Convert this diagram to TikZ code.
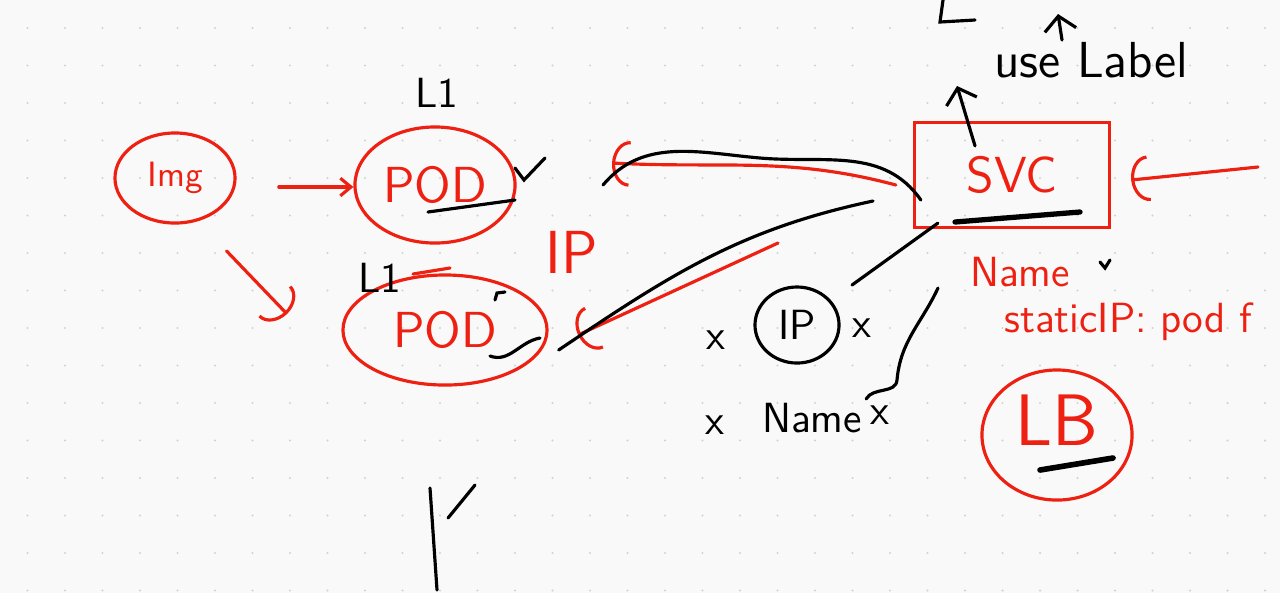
\documentclass[tikz,border=0pt]{standalone}
\usetikzlibrary{shapes.geometric, arrows, arrows.meta, calc}
\definecolor{inkred}{RGB}{238,32,18}
\definecolor{paper}{RGB}{249,249,249}
\tikzstyle{redring} = [ellipse, draw=inkred, line width=0.9pt, text=inkred, font=\sffamily\Large, inner sep=0pt]
\tikzstyle{inkring} = [ellipse, draw=black, line width=0.9pt, text=black, font=\sffamily\large, inner sep=0pt]
\tikzstyle{svcbox} = [rectangle, draw=inkred, line width=0.9pt, text=inkred, font=\sffamily\Large]
\tikzstyle{redtext} = [text=inkred, font=\sffamily\large, inner sep=1pt]
\tikzstyle{inktext} = [text=black, font=\sffamily\large, inner sep=1pt]
\tikzstyle{redarrow} = [draw=inkred, line width=0.9pt, line cap=round, -{Straight Barb[length=3pt, width=5pt]}]
\tikzstyle{redcurl} = [draw=inkred, line width=0.9pt, line cap=round, -{Arc Barb[length=5pt, width=13pt]}]
\tikzstyle{inkarrow} = [draw=black, line width=0.9pt, line cap=round, -{Straight Barb[length=4pt, width=9pt]}]
\tikzstyle{inkline} = [draw=black, line width=0.9pt, line cap=round]
\tikzstyle{redline} = [draw=inkred, line width=0.9pt, line cap=round]

\begin{document}
\begin{tikzpicture}[x=0.01cm, y=-0.01cm]
    \useasboundingbox (0,0) rectangle (1280,593);
    \fill[paper] (0,0) rectangle (1280,593);
    \foreach \gx in {0,...,33} {
        \foreach \gy in {0,...,15} {
            \fill[gray!35] ({27.5+37.5*\gx},{28+37.5*\gy}) circle (0.012cm);
        }
    }

    % pods
    \node (img) [redring, minimum width=1.2cm, minimum height=0.9cm, font=\sffamily\normalsize] at (175,178) {Img};
    \node (pod1) [redring, minimum width=1.6cm, minimum height=1.16cm] at (435,185) {POD};
    \node (podtag1) [inktext] at (437,93) {L1};
    \node (pod2) [redring, minimum width=2.04cm, minimum height=1.1cm] at (445,330) {POD};
    \node (podtag2) [inktext] at (380,278) {L1};
    \node (podip) [redtext, font=\sffamily\LARGE] at (572,252) {IP};

    % service
    \node (svc) [svcbox, minimum width=1.95cm, minimum height=1.05cm] at (1012,175) {SVC};
    \node (uselabel) [inktext, font=\sffamily\Large, anchor=west] at (990,60) {use Label};
    \node (svcname) [redtext] at (1020,272) {Name};
    \node (staticip) [redtext, anchor=west] at (1000,322) {staticIP: pod f};
    \node (lb) [redring, minimum width=1.5cm, minimum height=1.3cm, font=\sffamily\huge, text depth=0.3cm] at (1057,435) {LB};

    % pod ip
    \node (ipring) [inkring, minimum width=0.84cm, minimum height=0.76cm] at (797,325) {IP};
    \node (crossleft) [inktext] at (716,340) {x};
    \node (crossright) [inktext] at (862,328) {x};
    \node (crossname) [inktext] at (715,425) {x};
    \node (podname) [inktext] at (812,418) {Name};
    \node (crossend) [inktext] at (880,415) {x};

    \coordinate (imgtip) at (287,314);
    \coordinate (podtip1) at (612,163);
    \coordinate (podtip2) at (578,335);
    \coordinate (ingress) at (1258,167);
    \coordinate (labeltip) at (957,86);
    \coordinate (caret) at (1058,14);

    \draw [redarrow, shorten <=12pt] (img.east |- 0,187) -- (pod1.west |- 0,187);
    \draw [redcurl] ($(img.south east)+(8,40)$) -- (imgtip);
    \draw [redcurl] ($(svc.west)+(-17,10)$) to[out=165, in=-3] (podtip1);
    \draw [inkline] ($(svc.west)+(8,25)$) to[out=125, in=-5] (760,158) to[out=175, in=50] (603,185);
    \draw [redcurl] (778,243) -- (podtip2);
    \draw [inkline] ($(pod2.east)+(10,20)$) to[out=34, in=192] (873,201);
    \draw [redcurl] (ingress) -- ($(svc.east)+(20,5)$);
    \draw [inkarrow] ($(svc.north)+(-37,25)$) -- (labeltip);
    \draw [inkarrow] (1062,40) -- (caret);
    \draw [inkline] (852,285) -- ($(svc.south west)+(25,-6)$);
    \draw [inkline] (938,288) to[out=245, in=85] (897,380) to[out=265, in=60] (podname.north east);

    % marks
    \draw [inkline] (428,212) -- (515,200);
    \draw [inkline] (515,168) -- (524,180) -- (545,158);
    \draw [redline] (413,274) -- (450,268);
    \draw [inkline] (495,300) -- (497,293) -- (505,292);
    \draw [inkline] (490,356) to[out=-20, in=190] (540,338);
    \draw [inkline, line width=1.5pt] (955,222) -- (1080,212);
    \draw [inkline] (1100,262) -- (1105,268) -- (1110,260);
    \draw [inkline, line width=1.6pt] (1040,470) -- (1113,458);
    \draw [inkline] (943,0) -- (940,22) -- (975,20);
    \draw [inkline] (430,488) -- (437,590);
    \draw [inkline] (448,518) -- (475,485);
\end{tikzpicture}
\end{document}
